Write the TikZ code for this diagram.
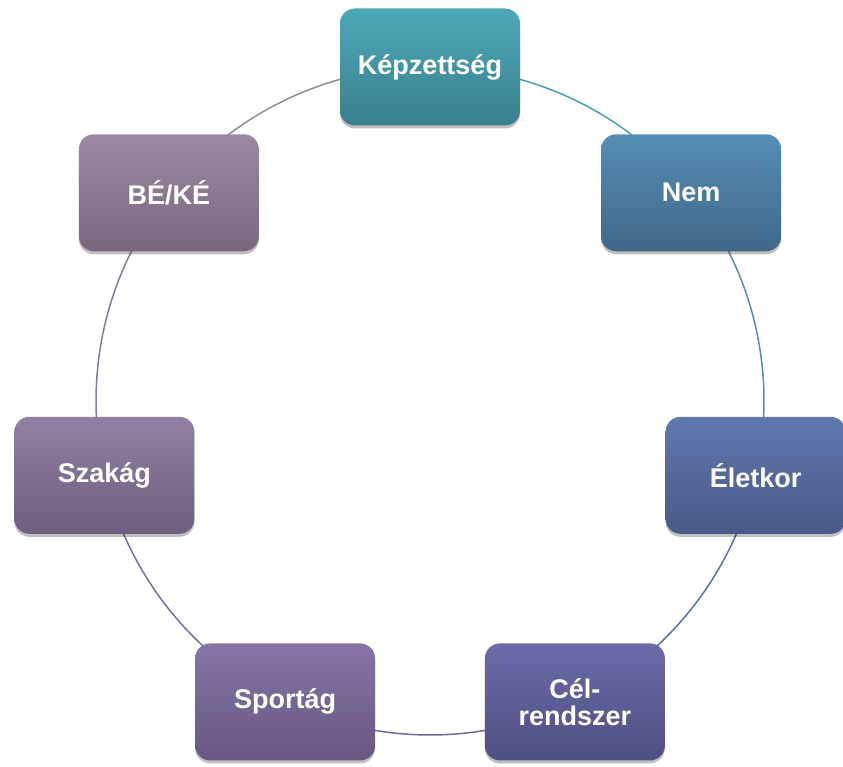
\documentclass[tikz,border=0pt]{standalone}
\usepackage{fontspec}
\setmainfont{Liberation Sans}
\usetikzlibrary{shadows,calc}

% box colours, top and bottom of each gradient
\definecolor{kepT}{HTML}{4CA9B8}\definecolor{kepB}{HTML}{3A7F8C}
\definecolor{nemT}{HTML}{558DB5}\definecolor{nemB}{HTML}{3F6889}
\definecolor{eleT}{HTML}{5F78AE}\definecolor{eleB}{HTML}{485A88}
\definecolor{celT}{HTML}{6B6BA9}\definecolor{celB}{HTML}{4F4E82}
\definecolor{spoT}{HTML}{8475A7}\definecolor{spoB}{HTML}{665880}
\definecolor{szaT}{HTML}{9080A3}\definecolor{szaB}{HTML}{6E5F80}
\definecolor{bekT}{HTML}{9B89A1}\definecolor{bekB}{HTML}{78687E}
% ring segment colours
\definecolor{ring0}{HTML}{4C9DAC}
\definecolor{ring1}{HTML}{5A8BAB}
\definecolor{ring2}{HTML}{5B6FA8}
\definecolor{ring3}{HTML}{6A68A2}
\definecolor{ring4}{HTML}{7A6E9B}
\definecolor{ring5}{HTML}{877A98}
\definecolor{ring6}{HTML}{958898}

\tikzset{
  itembox/.style n args={2}{
    rounded corners=15pt, minimum width=180pt, minimum height=117pt,
    top color=#1, bottom color=#2, draw=none,
    text=white, align=center,
    font=\fontsize{27}{27}\selectfont\bfseries,
    drop shadow={shadow xshift=0pt, shadow yshift=-3pt, opacity=0.25, fill=black}
  },
  ring/.style={line width=1.5pt, draw=#1}
}

\begin{document}
\begin{tikzpicture}[x=1pt, y=1pt]
  \useasboundingbox (0,0) rectangle (843,766);
  \coordinate (O) at (430,365);
  \def\R{334}
  % positions of the seven items round the ring, clockwise from the top
  \foreach \i in {0,...,6}{
    \coordinate (c\i) at ($(O)+({90-\i*360/7}:\R)$);
  }
  % ring segments between neighbouring items
  \foreach \i/\col in {0/ring0,1/ring1,2/ring2,3/ring3,4/ring4,5/ring5,6/ring6}{
    \draw[ring=\col] (c\i) arc[start angle={90-\i*360/7}, end angle={90-(\i+1)*360/7}, radius=\R];
  }
  % items
  \node[itembox={kepT}{kepB}] (kep) at (c0) {Képzettség};
  \node[itembox={nemT}{nemB}] (nem) at (c1) {Nem};
  \node[itembox={eleT}{eleB}] (ele) at (c2) {Életkor};
  \node[itembox={celT}{celB}] (cel) at (c3) {Cél-\\rendszer};
  \node[itembox={spoT}{spoB}] (spo) at (c4) {Sportág};
  \node[itembox={szaT}{szaB}] (sza) at (c5) {Szakág};
  \node[itembox={bekT}{bekB}] (bek) at (c6) {BÉ/KÉ};
\end{tikzpicture}
\end{document}
